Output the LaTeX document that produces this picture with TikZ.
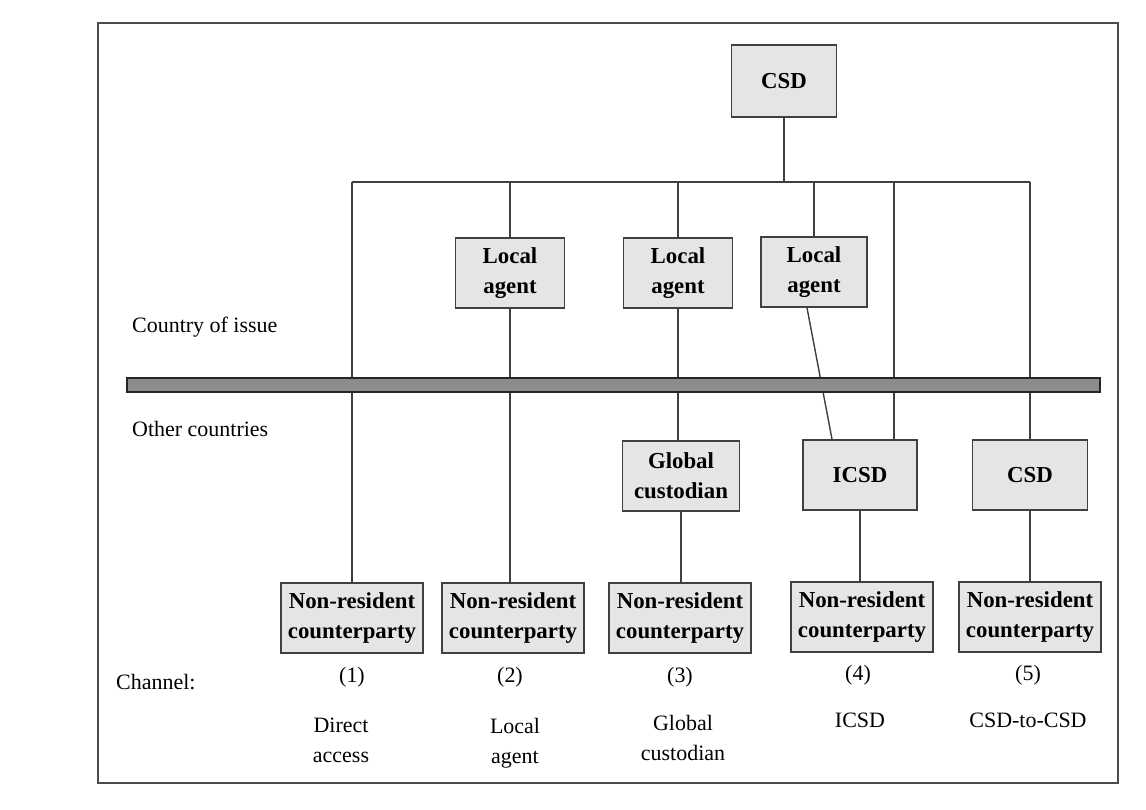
\documentclass[tikz,border=0pt]{standalone}
\usepackage{fontspec}
\setmainfont{Liberation Serif}
\usepackage{tikz}
\usepackage{xcolor}

\begin{document}
\begin{tikzpicture}[
x=0.02cm, y=-0.02cm,
box/.style={draw=black!75, line width=0.9pt, fill=black!10, minimum width=2.2cm, minimum height=1.4cm, inner sep=1pt, align=center, font=\fontsize{13}{17}\selectfont\bfseries},
party/.style={box, minimum width=2.84cm},
label/.style={align=center, font=\fontsize{12.5}{17}\selectfont},
link/.style={draw=black!75, line width=0.8pt}
]
\useasboundingbox (0,0) rectangle (1146,810);
\draw[black!70, line width=1.1pt] (98,23) rectangle (1118,783);
\node[box, minimum width=2.1cm, minimum height=1.44cm] (csd) at (784,81) {CSD};
\node[box, minimum width=2.18cm] (la1) at (510,273) {Local\\agent};
\node[box, minimum width=2.18cm] (la2) at (678,273) {Local\\agent};
\node[box, minimum width=2.12cm] (la3) at (814,272) {Local\\agent};
\node[box, minimum width=2.34cm] (gc) at (681,476) {Global\\custodian};
\node[box, minimum width=2.28cm] (icsd) at (860,475) {ICSD};
\node[box, minimum width=2.3cm] (csd5) at (1030,475) {CSD};
\node[party] (nrc1) at (352,618) {Non-resident\\counterparty};
\node[party] (nrc2) at (513,618) {Non-resident\\counterparty};
\node[party] (nrc3) at (680,618) {Non-resident\\counterparty};
\node[party] (nrc4) at (862,617) {Non-resident\\counterparty};
\node[party] (nrc5) at (1030,617) {Non-resident\\counterparty};
\coordinate (bus) at (784,182);
\draw[link] (csd.south) -- (bus);
\draw[link] (nrc1.north |- bus) -- (csd5.north |- bus);
\draw[link] (nrc1.north |- bus) -- (nrc1.north);
\draw[link] (la1.north |- bus) -- (la1.north);
\draw[link] (la1.south) -- (la1.south |- nrc2.north);
\draw[link] (la2.north |- bus) -- (la2.north);
\draw[link] (la2.south) -- (la2.south |- gc.north);
\draw[link] (gc.south) -- (gc.south |- nrc3.north);
\draw[link] (la3.north |- bus) -- (la3.north);
\draw[link] ([xshift=-0.14cm]la3.south) -- ([xshift=-0.56cm]icsd.north);
\draw[link] ([xshift=0.68cm]icsd.north |- bus) -- ([xshift=0.68cm]icsd.north);
\draw[link] (icsd.south) -- (icsd.south |- nrc4.north);
\draw[link] (csd5.north |- bus) -- (csd5.north);
\draw[link] (csd5.south) -- (nrc5.north);
% border between the two zones
\draw[draw=black!85, fill=black!45, line width=1pt] (127,378) rectangle (1100,392);
\node[label, anchor=west] (issue) at (126,327) {Country of issue};
\node[label, anchor=west] (other) at (126,429) {Other countries};
\node[label, anchor=west] (channel) at (110,682) {Channel:};
\node[label] (ch1) at (352,677) {(1)};
\node[label] (ch2) at (510,677) {(2)};
\node[label] (ch3) at (680,677) {(3)};
\node[label] (ch4) at (858,675) {(4)};
\node[label] (ch5) at (1028,675) {(5)};
\node[label, anchor=north] (d1) at (341,712) {Direct\\access};
\node[label, anchor=north] (d2) at (515,712) {Local\\agent};
\node[label, anchor=north] (d3) at (683,709) {Global\\custodian};
\node[label, anchor=north] (d4) at (860,707) {ICSD};
\node[label, anchor=north] (d5) at (1028,707) {CSD-to-CSD};
\end{tikzpicture}
\end{document}
